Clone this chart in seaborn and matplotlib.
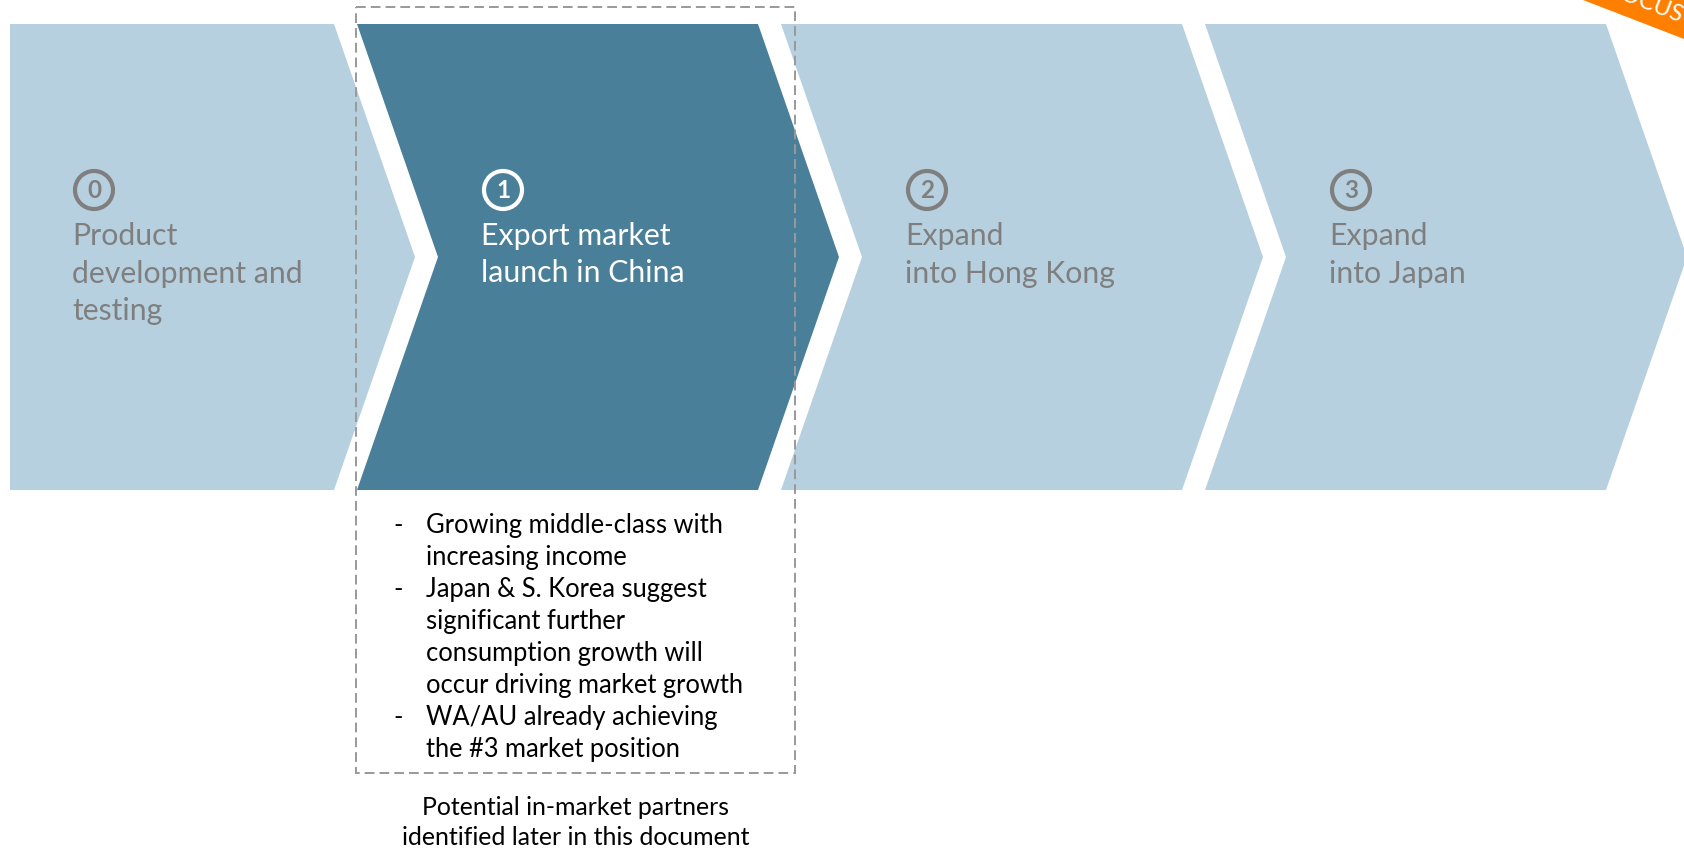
import numpy as np
import matplotlib
matplotlib.use("Agg")
import matplotlib.pyplot as plt
from matplotlib.patches import Polygon, Circle, Rectangle
import seaborn as sns

# --- content -------------------------------------------------------------
stage_numbers = ["0", "1", "2", "3"]
stage_titles = [
    "Product\ndevelopment and\ntesting",
    "Export market\nlaunch in China",
    "Expand\ninto Hong Kong",
    "Expand\ninto Japan",
]
highlight_stage = 1
bullet_points = [
    "Growing middle-class with\nincreasing income",
    "Japan & S. Korea suggest\nsignificant further\nconsumption growth will\noccur driving market growth",
    "WA/AU already achieving\nthe #3 market position",
]
footnote = "Potential in-market partners\nidentified later in this document"
banner_text = "FOCUS"

# --- styling -------------------------------------------------------------
sns.set_theme(style="white")
plt.rcParams["font.family"] = ["Lato", "DejaVu Sans"]

LIGHT = "#B7D0DF"
DARK = "#4A7F99"
GREY_TEXT = "#7F7F7F"
ORANGE = "#FF8000"

W, H = 1684, 852
fig = plt.figure(figsize=(W / 100, H / 100), dpi=100)
ax = fig.add_axes([0, 0, 1, 1])
ax.set_xlim(0, W)
ax.set_ylim(H, 0)
ax.set_axis_off()

# chevron geometry (pixel units)
first_left = -67
pitch = 424
body_w = 401
tip = 81
top, bottom = 24, 490
mid = (top + bottom) / 2
page_left = 10

title_size = 21.8
number_size = 17.5
body_size = 18.4
foot_size = 17.9
title_step = 37.5

for i, (num, title) in enumerate(zip(stage_numbers, stage_titles)):
    x0 = first_left + i * pitch
    if i == 0:
        pts = [(page_left, top), (x0 + body_w, top), (x0 + body_w + tip, mid),
               (x0 + body_w, bottom), (page_left, bottom)]
        tx = page_left + 63
    else:
        pts = [(x0, top), (x0 + body_w, top), (x0 + body_w + tip, mid),
               (x0 + body_w, bottom), (x0, bottom), (x0 + tip, mid)]
        tx = x0 + 125
    active = i == highlight_stage
    face = DARK if active else LIGHT
    fg = "white" if active else GREY_TEXT
    ax.add_patch(Polygon(pts, closed=True, facecolor=face, edgecolor="none", zorder=1))

    # circled step number
    ax.add_patch(Circle((tx + 21, 190), 19, facecolor="none", edgecolor=fg,
                        linewidth=3.0, zorder=3))
    ax.text(tx + 21, 191, num, color=fg, fontsize=number_size, fontweight="bold",
            ha="center", va="center", zorder=4)

    for k, line in enumerate(title.split("\n")):
        ax.text(tx - 1, 245 + k * title_step, line, color=fg, fontsize=title_size,
                ha="left", va="baseline", zorder=4)

# dashed frame around the highlighted stage and its notes
box_l, box_t, box_r, box_b = 356, 7, 795, 773
ax.add_patch(Rectangle((box_l, box_t), box_r - box_l, box_b - box_t,
                       facecolor="none", edgecolor="#999999", linewidth=1.4,
                       linestyle=(0, (5, 2.6)), zorder=5))

# bullet notes
line_y = 533
line_step = 32
for point in bullet_points:
    for k, line in enumerate(point.split("\n")):
        if k == 0:
            ax.text(393, line_y, "-", color="black", fontsize=body_size,
                    ha="left", va="baseline")
        ax.text(426, line_y, line, color="black", fontsize=body_size,
                ha="left", va="baseline")
        line_y += line_step

# footnote under the frame
for k, line in enumerate(footnote.split("\n")):
    ax.text((box_l + box_r) / 2, 815 + k * 30, line, color="black",
            fontsize=foot_size, ha="center", va="baseline")

# corner banner
ang = np.degrees(np.arctan2(39, 101))
a = np.radians(ang)
u = np.array([np.cos(a), np.sin(a)])
n = np.array([np.sin(a), -np.cos(a)])
p0 = np.array([1583.0, 0.0]) - 200 * u
p1 = p0 + 400 * u
band_h = 55
ax.add_patch(Polygon([p0, p1, p1 + band_h * n, p0 + band_h * n], closed=True,
                     facecolor=ORANGE, edgecolor="none", zorder=6))
anchor = np.array([1676.0, (1676 - 1583) * 39 / 101]) + 13 * n
ax.text(anchor[0], anchor[1], banner_text, color="white", fontsize=17,
        rotation=-ang, rotation_mode="anchor", ha="right", va="baseline",
        zorder=7)

fig.savefig("out.png", dpi=100)
